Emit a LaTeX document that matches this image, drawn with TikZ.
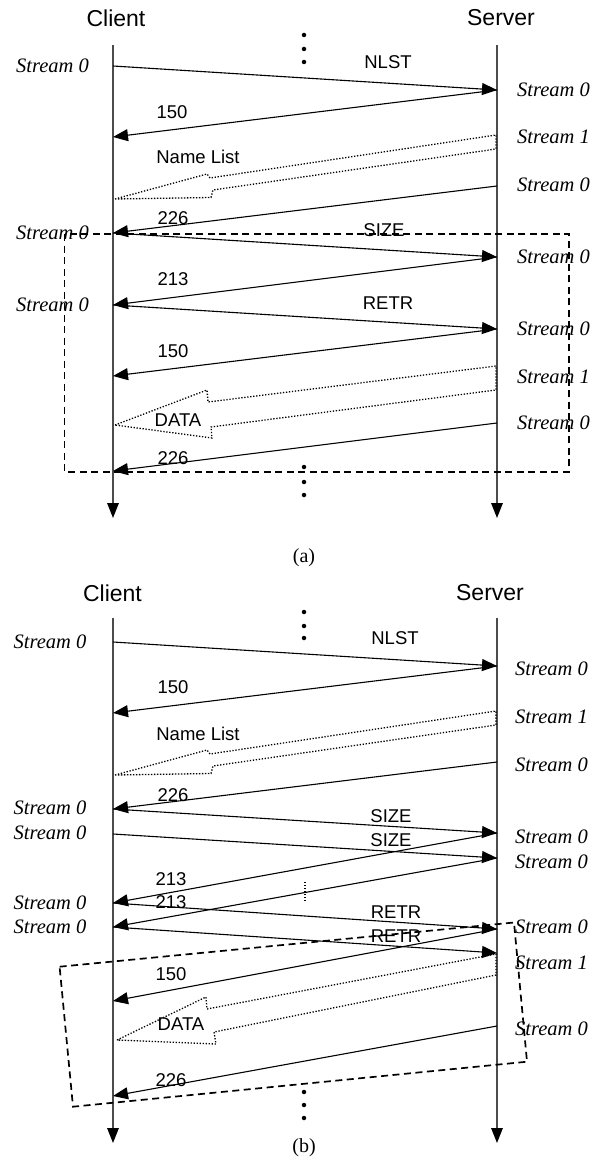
\documentclass[tikz,border=0pt]{standalone}
\usepackage{fontspec}
\setmainfont{Liberation Serif}
\newfontfamily\sansf{Liberation Sans}
\usetikzlibrary{arrows.meta}
\begin{document}
\begin{tikzpicture}[x=1pt,y=-1pt,
  life/.style={draw=black!70, line width=1.5pt, -{Triangle[length=15pt,width=11.5pt,color=black]}},
  msg/.style={draw=black, line width=1.1pt, -{Triangle[length=15pt,width=12pt]}},
  lbl/.style={font=\sansf\fontsize{18.5}{18.5}\selectfont, inner sep=0pt},
  strm/.style={font=\itshape\fontsize{20.5}{20.5}\selectfont, inner sep=0pt},
  rstrm/.style={strm, anchor=west},
  hdr/.style={font=\sansf\fontsize{23}{23}\selectfont, inner sep=0pt},
  captxt/.style={font=\fontsize{20}{20}\selectfont, inner sep=0pt},
  dotarrow/.style={draw=black, line width=1.3pt, dash pattern=on 1.3pt off 1.7pt},
  dbox/.style={draw=black, line width=1.7pt, dash pattern=on 7pt off 4.5pt},
  vdot/.style={circle, fill=black, inner sep=0pt, minimum size=4.5pt}
]
\useasboundingbox (0,0) rectangle (603,1161);

% ================= Panel (a) =================
\coordinate (aC0) at (113,45);  \coordinate (aC1) at (113,518);
\coordinate (aS0) at (497,45);  \coordinate (aS1) at (497,518);
\draw[life] (aC0) -- (aC1);
\draw[life] (aS0) -- (aS1);
\node[hdr] (aclient) at (116,18) {Client};
\node[hdr] (aserver) at (501,18) {Server};

\node[vdot] (ad1) at (304,35) {};
\node[vdot] (ad2) at (304,49) {};
\node[vdot] (ad3) at (304,62) {};
\node[vdot] (ad4) at (304,467) {};
\node[vdot] (ad5) at (304,482) {};
\node[vdot] (ad6) at (304,495) {};

\coordinate (a1c) at (113,66);   \coordinate (a1s) at (497,90);
\coordinate (a2c) at (113,137);
\coordinate (a3s) at (497,186);  \coordinate (a3c) at (113,233);
\coordinate (a4s) at (497,257);
\coordinate (a5c) at (113,305);
\coordinate (a6s) at (497,329);
\coordinate (a7c) at (113,376);
\coordinate (a8s) at (497,423);  \coordinate (a8c) at (113,471);

\draw[msg] (a1c) -- (a1s);
\draw[msg] (a1s) -- (a2c);
\draw[msg] (a3s) -- (a3c);
\draw[msg] (a3c) -- (a4s);
\draw[msg] (a4s) -- (a5c);
\draw[msg] (a5c) -- (a6s);
\draw[msg] (a6s) -- (a7c);
\draw[msg] (a8s) -- (a8c);

\draw[dotarrow] (115,199) -- (207,174) -- (210,178) -- (496,135) -- (496,149) -- (213,190) -- (211,197.5) -- cycle;
\draw[dotarrow] (115,425) -- (207,390) -- (208,402) -- (496,366) -- (496,390) -- (211,427) -- (212,438) -- cycle;

\node[lbl] (anlst) at (388,62) {NLST};
\node[lbl] (a150a) at (172,112) {150};
\node[lbl] (anl) at (198,157) {Name List};
\node[lbl] (a226a) at (173,218) {226};
\node[lbl] (asize) at (384,230) {SIZE};
\node[lbl] (a213) at (173,279) {213};
\node[lbl] (aretr) at (388,303) {RETR};
\node[lbl] (a150b) at (173,351) {150};
\node[lbl] (adata) at (178,420) {DATA};
\node[lbl] (a226b) at (173,458) {226};

\node[strm] (alS1) at (52.5,66) {Stream 0};
\node[strm] (alS2) at (52.5,233) {Stream 0};
\node[strm] (alS3) at (52.5,305) {Stream 0};
\node[rstrm] (arS1) at (517,90) {Stream 0};
\node[rstrm] (arS2) at (517,137) {Stream 1};
\node[rstrm] (arS3) at (517,185) {Stream 0};
\node[rstrm] (arS4) at (517,257) {Stream 0};
\node[rstrm] (arS5) at (517,329) {Stream 0};
\node[rstrm] (arS6) at (517,377) {Stream 1};
\node[rstrm] (arS7) at (517,423) {Stream 0};

\draw[dbox] (64.6,234) rectangle (569,471.7);
\node[captxt] (acap) at (304,558) {(a)};

% ================= Panel (b) =================
\coordinate (bC0) at (113,618);  \coordinate (bC1) at (113,1143);
\coordinate (bS0) at (497,618);  \coordinate (bS1) at (497,1143);
\draw[life] (bC0) -- (bC1);
\draw[life] (bS0) -- (bS1);
\node[hdr] (bclient) at (112.5,593) {Client};
\node[hdr] (bserver) at (490,593) {Server};

\node[vdot] (bd1) at (304,612) {};
\node[vdot] (bd2) at (304,626) {};
\node[vdot] (bd3) at (304,638) {};
\node[vdot] (bd4) at (304,1092) {};
\node[vdot] (bd5) at (304,1105) {};
\node[vdot] (bd6) at (304,1118) {};

\coordinate (b1c) at (113,642);  \coordinate (b1s) at (497,666);
\coordinate (b2c) at (113,713);
\coordinate (b3s) at (497,762);  \coordinate (b3c) at (113,809);
\coordinate (b4s) at (497,833);
\coordinate (b5c) at (113,834);  \coordinate (b5s) at (497,858);
\coordinate (b6c) at (113,903);
\coordinate (b7c) at (113,927);
\coordinate (b8s) at (497,929);
\coordinate (b9s) at (497,953);
\coordinate (b10c) at (113,1001);
\coordinate (b11s) at (497,1026); \coordinate (b11c) at (113,1096);

\draw[msg] (b1c) -- (b1s);
\draw[msg] (b1s) -- (b2c);
\draw[msg] (b3s) -- (b3c);
\draw[msg] (b3c) -- (b4s);
\draw[msg] (b5c) -- (b5s);
\draw[msg] (b4s) -- (b6c);
\draw[msg] (b5s) -- (b7c);
\draw[msg] (b6c) -- (b8s);
\draw[msg] (b7c) -- (b9s);
\draw[msg] (b8s) -- (b10c);
\draw[msg] (b11s) -- (b11c);

\coordinate (bv0) at (305,882); \coordinate (bv1) at (305,902);
\draw[dotarrow] (bv0) -- (bv1);

\draw[dotarrow] (115,775) -- (207,750) -- (210,754) -- (496,711) -- (496,725) -- (213,766) -- (211,773.5) -- cycle;
\draw[dotarrow] (117,1040) -- (206,997) -- (207,1009) -- (496,954) -- (496,975) -- (214,1032) -- (216,1044) -- cycle;

\node[lbl] (bnlst) at (395,638) {NLST};
\node[lbl] (b150a) at (173,687) {150};
\node[lbl] (bnl) at (198,734) {Name List};
\node[lbl] (b226a) at (173,795) {226};
\node[lbl] (bsize1) at (391,816) {SIZE};
\node[lbl] (bsize2) at (391,840) {SIZE};
\node[lbl] (b213a) at (171,879) {213};
\node[lbl] (b213b) at (171,902) {213};
\node[lbl] (bretr1) at (396,912) {RETR};
\node[lbl] (bretr2) at (396,936) {RETR};
\node[lbl] (b150b) at (171,974) {150};
\node[lbl] (bdata) at (181,1024) {DATA};
\node[lbl] (b226b) at (171,1080) {226};

\node[strm] (blS1) at (50,642) {Stream 0};
\node[strm] (blS2) at (50,808) {Stream 0};
\node[strm] (blS3) at (50,833) {Stream 0};
\node[strm] (blS4) at (50,903) {Stream 0};
\node[strm] (blS5) at (50,927) {Stream 0};
\node[rstrm] (brS1) at (515,669) {Stream 0};
\node[rstrm] (brS2) at (515,717) {Stream 1};
\node[rstrm] (brS3) at (515,765) {Stream 0};
\node[rstrm] (brS4) at (515,837) {Stream 0};
\node[rstrm] (brS5) at (515,862) {Stream 0};
\node[rstrm] (brS6) at (515,927) {Stream 0};
\node[rstrm] (brS7) at (515,963) {Stream 1};
\node[rstrm] (brS8) at (515,1029) {Stream 0};

\draw[dbox] (59.6,966.7) -- (514,922.5) -- (527,1061.7) -- (73,1106.7) -- cycle;
\node[captxt] (bcap) at (304,1148) {(b)};
\end{tikzpicture}
\end{document}
